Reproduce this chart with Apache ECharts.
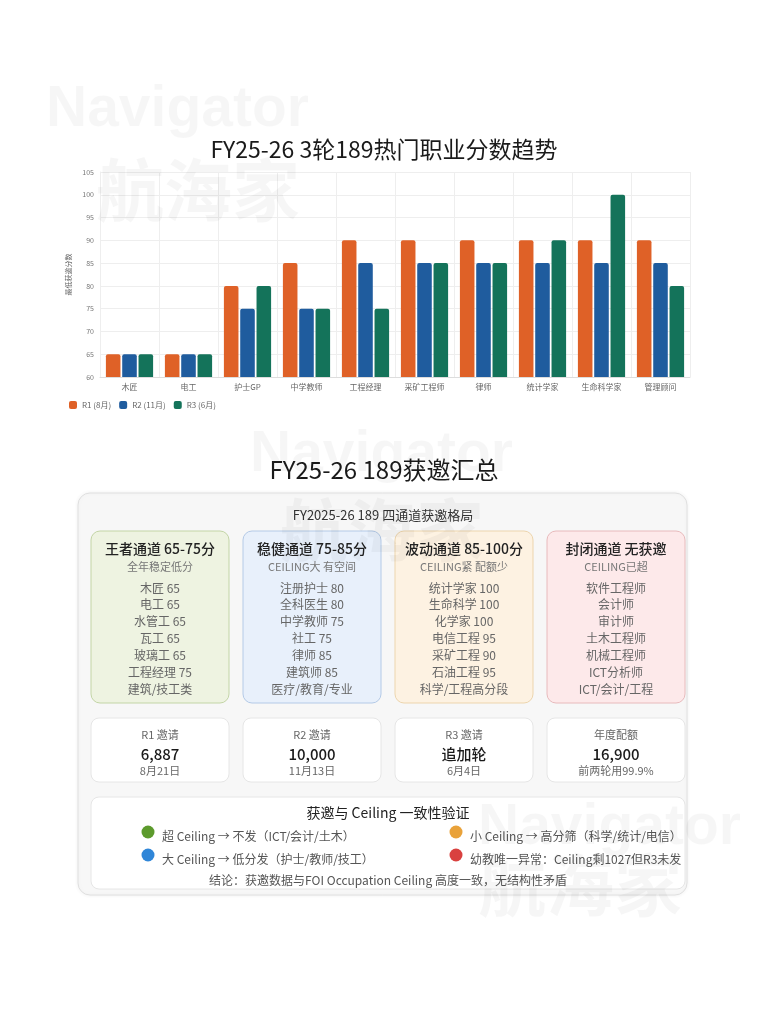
<!DOCTYPE html>
<html><head><meta charset="utf-8">
<script src="https://cdn.jsdelivr.net/npm/echarts@6/dist/echarts.min.js"></script>
<style>html,body{margin:0;padding:0;background:#fff}#c{width:768px;height:1024px}</style>
</head><body><div id="c"></div>
<script>
const categories = ['木匠','电工','护士GP','中学教师','工程经理','采矿工程师','律师','统计学家','生命科学家','管理顾问'];
const r1 = [65,65,80,85,90,90,90,90,90,90];
const r2 = [65,65,75,75,85,85,85,85,85,85];
const r3 = [65,65,80,75,75,85,85,90,100,80];
const seriesNames = ['R1 (8月)','R2 (11月)','R3 (6月)'];
const yTicks = {min:60, max:105, interval:5};

const laneTitles = ['王者通道 65-75分','稳健通道 75-85分','波动通道 85-100分','封闭通道 无获邀'];
const laneSubtitles = ['全年稳定低分','CEILING大 有空间','CEILING紧 配额少','CEILING已超'];
const laneItems = [
  ['木匠 65','电工 65','水管工 65','瓦工 65','玻璃工 65','工程经理 75','建筑/技工类'],
  ['注册护士 80','全科医生 80','中学教师 75','社工 75','律师 85','建筑师 85','医疗/教育/专业'],
  ['统计学家 100','生命科学 100','化学家 100','电信工程 95','采矿工程 90','石油工程 95','科学/工程高分段'],
  ['软件工程师','会计师','审计师','土木工程师','机械工程师','ICT分析师','ICT/会计/工程']
];
const statLabels = ['R1 邀请','R2 邀请','R3 邀请','年度配额'];
const statValues = ['6,887','10,000','追加轮','16,900'];
const statNotes = ['8月21日','11月13日','6月4日','前两轮用99.9%'];
const checkItems = ['超 Ceiling → 不发（ICT/会计/土木）','小 Ceiling → 高分筛（科学/统计/电信）','大 Ceiling → 低分发（护士/教师/技工）','幼教唯一异常：Ceiling剩1027但R3未发'];
const conclusion = '结论：获邀数据与FOI Occupation Ceiling 高度一致，无结构性矛盾';

const FF = '"Noto Sans CJK SC","Noto Sans",sans-serif';
const laneFill = ['#eef3e1','#e8f0fb','#fdf2e2','#fde9ea'];
const laneStroke = ['#c3d5a6','#b4cae7','#edd5ad','#e8babc'];
const dotColors = ['#5c9a2c','#e9a23a','#2f86d8','#d9413f'];

const g = [];
function txt(t,x,y,size,color,align,weight){
  g.push({type:'text',z:10,style:{text:t,x:x,y:y,fill:color,fontSize:size,fontFamily:FF,fontWeight:weight||'normal',align:align||'center',verticalAlign:'middle'}});
}
txt('FY25-26 189获邀汇总',384,470,24,'#1a1a1a');
g.push({type:'rect',z:1,shape:{x:78,y:493,width:609,height:402,r:12},style:{fill:'#f7f7f7',stroke:'#e0e0e0',lineWidth:1,shadowBlur:4,shadowColor:'rgba(0,0,0,0.06)'}});
txt('FY2025-26 189 四通道获邀格局',383,515,13,'#333');
const cardX = [91,243,395,547], cardW = 138;
laneTitles.forEach((t,i)=>{
  const x = cardX[i];
  g.push({type:'rect',z:2,shape:{x:x,y:531,width:cardW,height:172,r:9},style:{fill:laneFill[i],stroke:laneStroke[i],lineWidth:1}});
  const cx = x+cardW/2;
  txt(t,cx,549,14,'#222','center','500');
  txt(laneSubtitles[i],cx,567,11,'#777');
  laneItems[i].forEach((it,j)=>txt(it,cx,588+j*16.9,12,'#666'));
  g.push({type:'rect',z:2,shape:{x:x,y:718,width:cardW,height:64,r:8},style:{fill:'#fff',stroke:'#e6e6e6',lineWidth:1}});
  txt(statLabels[i],cx,735,11,'#666');
  txt(statValues[i],cx,754,15,'#1a1a1a','center','500');
  txt(statNotes[i],cx,771,11,'#666');
});
g.push({type:'rect',z:2,shape:{x:91,y:797,width:594,height:92,r:8},style:{fill:'#fff',stroke:'#e6e6e6',lineWidth:1}});
txt('获邀与 Ceiling 一致性验证',388,813,14,'#222');
const dotPos = [[148,832],[456,832],[148,855],[456,855]];
checkItems.forEach((t,i)=>{
  g.push({type:'circle',z:10,shape:{cx:dotPos[i][0],cy:dotPos[i][1],r:6.5},style:{fill:dotColors[i]}});
  txt(t,dotPos[i][0]+14,dotPos[i][1]+4,12,'#555','left');
});
txt(conclusion,388,880,12,'#555');
const WMC = 'rgba(0,0,0,0.035)';
function wm(t,x,y){
  g.push({type:'text',z:50,silent:true,style:{text:t,x:x,y:y,fill:WMC,fontSize:57,fontFamily:'"Liberation Sans",Arial,sans-serif',fontWeight:'bold',align:'left',verticalAlign:'middle'}});
}
function wmc(t,x,y){
  g.push({type:'text',z:50,silent:true,style:{text:t,x:x,y:y,fill:WMC,fontSize:68,fontFamily:'"Noto Sans CJK SC",sans-serif',fontWeight:'bold',align:'left',verticalAlign:'middle'}});
}
wm('Navigator',46,110); wmc('航海家',96,190);
wm('Navigator',250,455); wmc('航海家',280,530);
wm('Navigator',478,828); wmc('航海家',478,885);

const colors = ['#df6127','#1f5c9e','#14735a'];
const chart = echarts.init(document.getElementById('c'));
chart.setOption({
  animation:false,
  backgroundColor:'#fff',
  color:colors,
  textStyle:{fontFamily:FF},
  title:{text:'FY25-26 3轮189热门职业分数趋势',left:'center',top:133,textStyle:{fontSize:23,fontWeight:'normal',color:'#1a1a1a',fontFamily:FF}},
  legend:{data:seriesNames,left:64,top:396,icon:'roundRect',itemWidth:8,itemHeight:8,itemGap:8,textStyle:{fontSize:8,color:'#666'}},
  grid:{left:100,right:78,top:172,height:205,containLabel:false},
  xAxis:{type:'category',data:categories,axisTick:{show:false},axisLine:{lineStyle:{color:'#ddd'}},
    axisLabel:{fontSize:8,color:'#666',margin:6},splitLine:{show:true,lineStyle:{color:'#eee'}}},
  yAxis:{type:'value',min:yTicks.min,max:yTicks.max,interval:yTicks.interval,name:'最低获邀分数',nameLocation:'middle',nameGap:20,
    nameTextStyle:{fontSize:7,color:'#666'},axisLabel:{fontSize:7,color:'#777',margin:6},
    axisLine:{show:true,lineStyle:{color:'#eee'}},splitLine:{lineStyle:{color:'#eee'}}},
  series:[r1,r2,r3].map((d,i)=>({name:seriesNames[i],type:'bar',data:d,barGap:'12%',barCategoryGap:'20%',itemStyle:{borderRadius:[2,2,0,0]}})),
  graphic:g
});
</script></body></html>
